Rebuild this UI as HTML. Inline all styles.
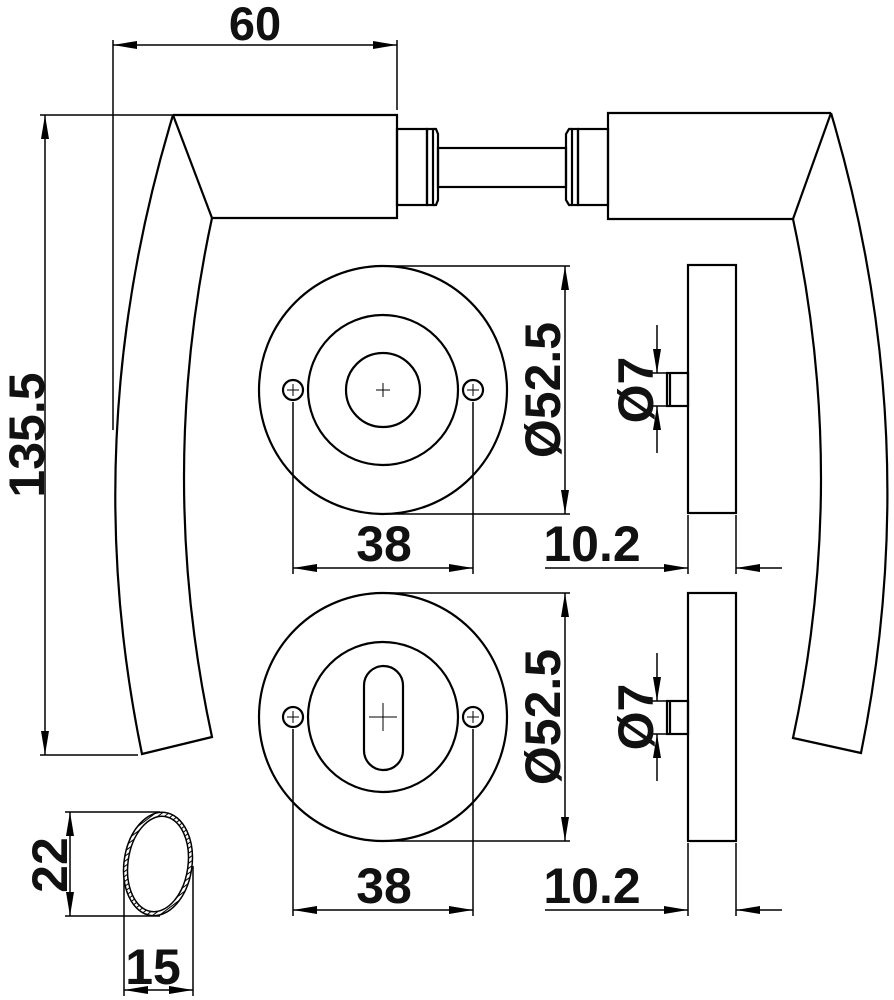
<!DOCTYPE html>
<html><head><meta charset="utf-8"><style>
html,body{margin:0;padding:0;background:#fff;}
svg{display:block;}
text{font-family:"Liberation Sans",sans-serif;font-weight:bold;fill:#111;}
</style></head><body>
<svg width="894" height="1000" viewBox="0 0 894 1000" xmlns="http://www.w3.org/2000/svg">
<defs>
<marker id="a" viewBox="0 0 24 8" refX="24" refY="4" markerWidth="24" markerHeight="8" markerUnits="userSpaceOnUse" orient="auto"><path d="M0,0 L24,4 L0,8 Z" fill="#000"/></marker>
<pattern id="h" width="4" height="4" patternUnits="userSpaceOnUse" patternTransform="rotate(45)"><rect width="4" height="4" fill="#fff"/><line x1="0" y1="0" x2="0" y2="4" stroke="#000" stroke-width="2"/></pattern>
</defs>
<g fill="none" stroke="#000" stroke-width="2.2">
<path d="M173,115 L397,115 L397,218 L212,218"/>
<path d="M173,115 L212,218"/>
<path d="M173,115 Q76,435 142,754 L212,737 Q156,478 212,218"/>
<path d="M831,113 L608,113 L608,219 L793,219"/>
<path d="M831,113 L793,219"/>
<path d="M831,113 Q926,433 861,753 L793,738 Q849,478 793,219"/>
<rect x="397" y="129" width="30" height="76"/>
<rect x="427" y="129" width="6" height="76"/>
<path d="M433,129 L436,129 L438,134 L438,200 L436,205 L433,205"/>
<rect x="438" y="148" width="128" height="39"/>
<path d="M572,129 L569,129 L566,134 L566,200 L569,205 L572,205"/>
<rect x="572" y="129" width="6" height="76"/>
<rect x="578" y="129" width="30" height="76"/>
<circle cx="383" cy="390" r="124"/>
<circle cx="383" cy="390" r="75"/>
<circle cx="383" cy="390" r="37"/>
<circle cx="293" cy="390" r="10"/>
<circle cx="473" cy="390" r="10"/>
<circle cx="383" cy="717" r="124"/>
<circle cx="383" cy="717" r="75"/>
<rect x="364" y="666" width="39" height="104" rx="19.5"/>
<circle cx="293" cy="717" r="10"/>
<circle cx="473" cy="717" r="10"/>
<rect x="688" y="265" width="48" height="248"/>
<rect x="667" y="373" width="21" height="33"/>
<line x1="670" y1="373" x2="670" y2="406"/>
<rect x="688" y="593" width="48" height="248"/>
<rect x="667" y="701" width="21" height="33"/>
<line x1="670" y1="701" x2="670" y2="734"/>
</g>
<g stroke="#000" stroke-width="1">
<line x1="376" y1="390" x2="390" y2="390"/><line x1="383" y1="383" x2="383" y2="397"/>
<line x1="369" y1="717" x2="397" y2="717"/><line x1="383" y1="703" x2="383" y2="731"/>
<line x1="287" y1="390" x2="299" y2="390"/><line x1="293" y1="384" x2="293" y2="396"/>
<line x1="467" y1="390" x2="479" y2="390"/><line x1="473" y1="384" x2="473" y2="396"/>
<line x1="287" y1="717" x2="299" y2="717"/><line x1="293" y1="711" x2="293" y2="723"/>
<line x1="467" y1="717" x2="479" y2="717"/><line x1="473" y1="711" x2="473" y2="723"/>
</g>
<g stroke="#000" stroke-width="1.5" fill="none">
<line x1="113" y1="40" x2="113" y2="430"/>
<line x1="397" y1="40" x2="397" y2="110"/>
<line x1="255" y1="45" x2="113" y2="45" marker-end="url(#a)"/>
<line x1="255" y1="45" x2="397" y2="45" marker-end="url(#a)"/>
<line x1="40" y1="115" x2="173" y2="115"/>
<line x1="40" y1="755" x2="138" y2="755"/>
<line x1="45" y1="435" x2="45" y2="115" marker-end="url(#a)"/>
<line x1="45" y1="435" x2="45" y2="755" marker-end="url(#a)"/>
<line x1="293" y1="402" x2="293" y2="574"/>
<line x1="473" y1="402" x2="473" y2="574"/>
<line x1="383" y1="568" x2="293" y2="568" marker-end="url(#a)"/>
<line x1="383" y1="568" x2="473" y2="568" marker-end="url(#a)"/>
<line x1="383" y1="266" x2="570" y2="266"/>
<line x1="383" y1="514" x2="570" y2="514"/>
<line x1="565" y1="390" x2="565" y2="266" marker-end="url(#a)"/>
<line x1="565" y1="390" x2="565" y2="514" marker-end="url(#a)"/>
<line x1="688" y1="515" x2="688" y2="574"/>
<line x1="736" y1="515" x2="736" y2="574"/>
<line x1="545" y1="568" x2="688" y2="568" marker-end="url(#a)"/>
<line x1="782" y1="568" x2="736" y2="568" marker-end="url(#a)"/>
<line x1="652" y1="373" x2="667" y2="373"/>
<line x1="652" y1="406" x2="667" y2="406"/>
<line x1="657" y1="325" x2="657" y2="373" marker-end="url(#a)"/>
<line x1="657" y1="453" x2="657" y2="406" marker-end="url(#a)"/>
<line x1="293" y1="729" x2="293" y2="916"/>
<line x1="473" y1="729" x2="473" y2="916"/>
<line x1="383" y1="910" x2="293" y2="910" marker-end="url(#a)"/>
<line x1="383" y1="910" x2="473" y2="910" marker-end="url(#a)"/>
<line x1="383" y1="593" x2="570" y2="593"/>
<line x1="383" y1="841" x2="570" y2="841"/>
<line x1="565" y1="717" x2="565" y2="593" marker-end="url(#a)"/>
<line x1="565" y1="717" x2="565" y2="841" marker-end="url(#a)"/>
<line x1="688" y1="843" x2="688" y2="916"/>
<line x1="736" y1="843" x2="736" y2="916"/>
<line x1="545" y1="910" x2="688" y2="910" marker-end="url(#a)"/>
<line x1="782" y1="910" x2="736" y2="910" marker-end="url(#a)"/>
<line x1="652" y1="701" x2="667" y2="701"/>
<line x1="652" y1="734" x2="667" y2="734"/>
<line x1="657" y1="653" x2="657" y2="701" marker-end="url(#a)"/>
<line x1="657" y1="781" x2="657" y2="734" marker-end="url(#a)"/>
<line x1="65" y1="812" x2="160" y2="812"/>
<line x1="65" y1="916" x2="160" y2="916"/>
<line x1="70" y1="864" x2="70" y2="812" marker-end="url(#a)"/>
<line x1="70" y1="864" x2="70" y2="916" marker-end="url(#a)"/>
<line x1="124" y1="866" x2="124" y2="996"/>
<line x1="193" y1="866" x2="193" y2="996"/>
<line x1="158" y1="990" x2="124" y2="990" marker-end="url(#a)"/>
<line x1="158" y1="990" x2="193" y2="990" marker-end="url(#a)"/>
</g>
<g transform="rotate(8 158 864)">
<ellipse cx="158" cy="864" rx="34" ry="52" fill="url(#h)" stroke="#000" stroke-width="1.5"/>
<ellipse cx="158" cy="864" rx="30" ry="48" fill="#fff" stroke="#000" stroke-width="1.5"/>
</g>
<text x="255" y="40" font-size="47" text-anchor="middle">60</text>
<text transform="translate(44,435) rotate(-90)" font-size="50" text-anchor="middle">135.5</text>
<text x="384" y="561" font-size="50" text-anchor="middle">38</text>
<text x="384" y="903" font-size="50" text-anchor="middle">38</text>
<text x="592" y="561" font-size="50" text-anchor="middle">10.2</text>
<text x="592" y="903" font-size="50" text-anchor="middle">10.2</text>
<text transform="translate(560,390) rotate(-90)" font-size="50" text-anchor="middle">Ø52.5</text>
<text transform="translate(560,717) rotate(-90)" font-size="50" text-anchor="middle">Ø52.5</text>
<text transform="translate(653,390) rotate(-90)" font-size="50" text-anchor="middle">Ø7</text>
<text transform="translate(653,717) rotate(-90)" font-size="50" text-anchor="middle">Ø7</text>
<text transform="translate(67,865) rotate(-90)" font-size="50" text-anchor="middle">22</text>
<text x="153" y="984" font-size="50" text-anchor="middle">15</text>
</svg>
</body></html>
